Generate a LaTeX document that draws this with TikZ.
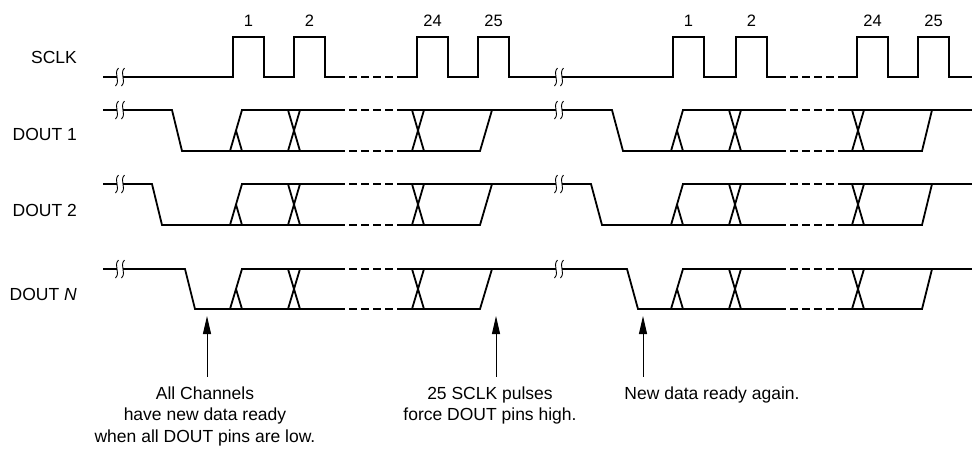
\documentclass[tikz,border=0pt]{standalone}
\usepackage{fontspec}
\setmainfont{Liberation Sans}
\usetikzlibrary{arrows.meta}

% break mark on a signal line: x, y
\newcommand{\wavebreak}[2]{%
  \fill[white] (#1-3,#2-3) rectangle (#1+3,#2+3);
  \foreach \d in {-3,3}
    \draw[line width=0.9pt] (#1+\d+1.5,#2-9) .. controls (#1+\d-4,#2-3) and (#1+\d+4,#2+3) .. (#1+\d-1.5,#2+9);
}

\begin{document}
\begin{tikzpicture}[x=1pt,y=-1pt,
  wave/.style={line width=1.8pt},
  dwave/.style={wave,dash pattern=on 7.5pt off 4.5pt},
  sigarrow/.style={line width=1pt,-{Triangle[length=18pt,width=8pt]}},
  lbl/.style={inner sep=0pt,font=\fontsize{17.5}{21.5}\selectfont},
  num/.style={inner sep=0pt,anchor=base,font=\fontsize{16.5}{20}\selectfont},
  note/.style={lbl,align=center,anchor=north}]
\useasboundingbox (0,0) rectangle (972,448);

% signal names
\node[lbl,anchor=base east] (sclk) at (77,63) {SCLK};
\node[lbl,anchor=base east] (dout1) at (77,140) {DOUT 1};
\node[lbl,anchor=base east] (dout2) at (77,216) {DOUT 2};
\node[lbl,anchor=base east] (doutn) at (77,300) {DOUT \textit{N}};

% SCLK
\draw[wave] (103,77) foreach \p in {233,294} { -- (\p,77) -- (\p,37) -- (\p+31,37) -- (\p+31,77) } -- (337,77);
\draw[dwave] (337,77) -- (405,77);
\draw[wave] (405,77) foreach \p in {417,478,673,736} { -- (\p,77) -- (\p,37) -- (\p+31,37) -- (\p+31,77) } -- (778,77);
\draw[dwave] (778,77) -- (842,77);
\draw[wave] (842,77) foreach \p in {857,918} { -- (\p,77) -- (\p,37) -- (\p+31,37) -- (\p+31,77) } -- (972,77);
\foreach \p/\n [count=\i] in {233/1,294/2,417/24,478/25,673/1,736/2,857/24,918/25}
  \node[num] (pulse\i) at (\p+15.5,26) {\n};
\wavebreak{120}{77}
\wavebreak{559}{77}

% DOUT lines: high, low, first fall, second fall
\foreach \H/\L/\fa/\fb in {110/151/172/612,184/225/152/591,269/309/185/627} {
  \pgfmathsetmacro\M{(\H+\L)/2}
  \draw[wave] (103,\H) -- (\fa,\H) -- (\fa+10,\L) -- (337,\L);
  \draw[wave] (241,\H) -- (337,\H);
  \draw[dwave] (337,\H) -- (405,\H) (337,\L) -- (405,\L);
  \draw[wave] (405,\L) -- (480,\L) -- (492,\H);
  \draw[wave] (405,\H) -- (\fb,\H) -- (\fb+11,\L) -- (778,\L);
  \draw[wave] (682,\H) -- (778,\H);
  \draw[dwave] (778,\H) -- (842,\H) (778,\L) -- (842,\L);
  \draw[wave] (842,\L) -- (922,\L) -- (932,\H);
  \draw[wave] (842,\H) -- (972,\H);
  \foreach \a in {230,671}
    \draw[wave] (\a,\L) -- (\a+12,\H) (\a+12,\L) -- (\a+6,\M);
  \foreach \a in {288,412,729,852}
    \draw[wave] (\a,\H) -- (\a+12,\L) (\a,\L) -- (\a+12,\H);
  \wavebreak{120}{\H}
  \wavebreak{559}{\H}
}

% notes
\node[note] (allnew) at (205,386.5) {All Channels\\have new data ready\\when all DOUT pins are low.};
\node[note] (pulses) at (490,386.5) {25 SCLK pulses\\force DOUT pins high.};
\node[note] (again) at (712,386.5) {New data ready again.};
\coordinate (tip1) at (207,316);
\coordinate (tip2) at (496,316);
\coordinate (tip3) at (643,316);
\draw[sigarrow] (tip1 |- allnew.north) ++(0,-10) -- (tip1);
\draw[sigarrow] (tip2 |- pulses.north) ++(0,-10) -- (tip2);
\draw[sigarrow] (tip3 |- again.north) ++(0,-10) -- (tip3);
\end{tikzpicture}
\end{document}
